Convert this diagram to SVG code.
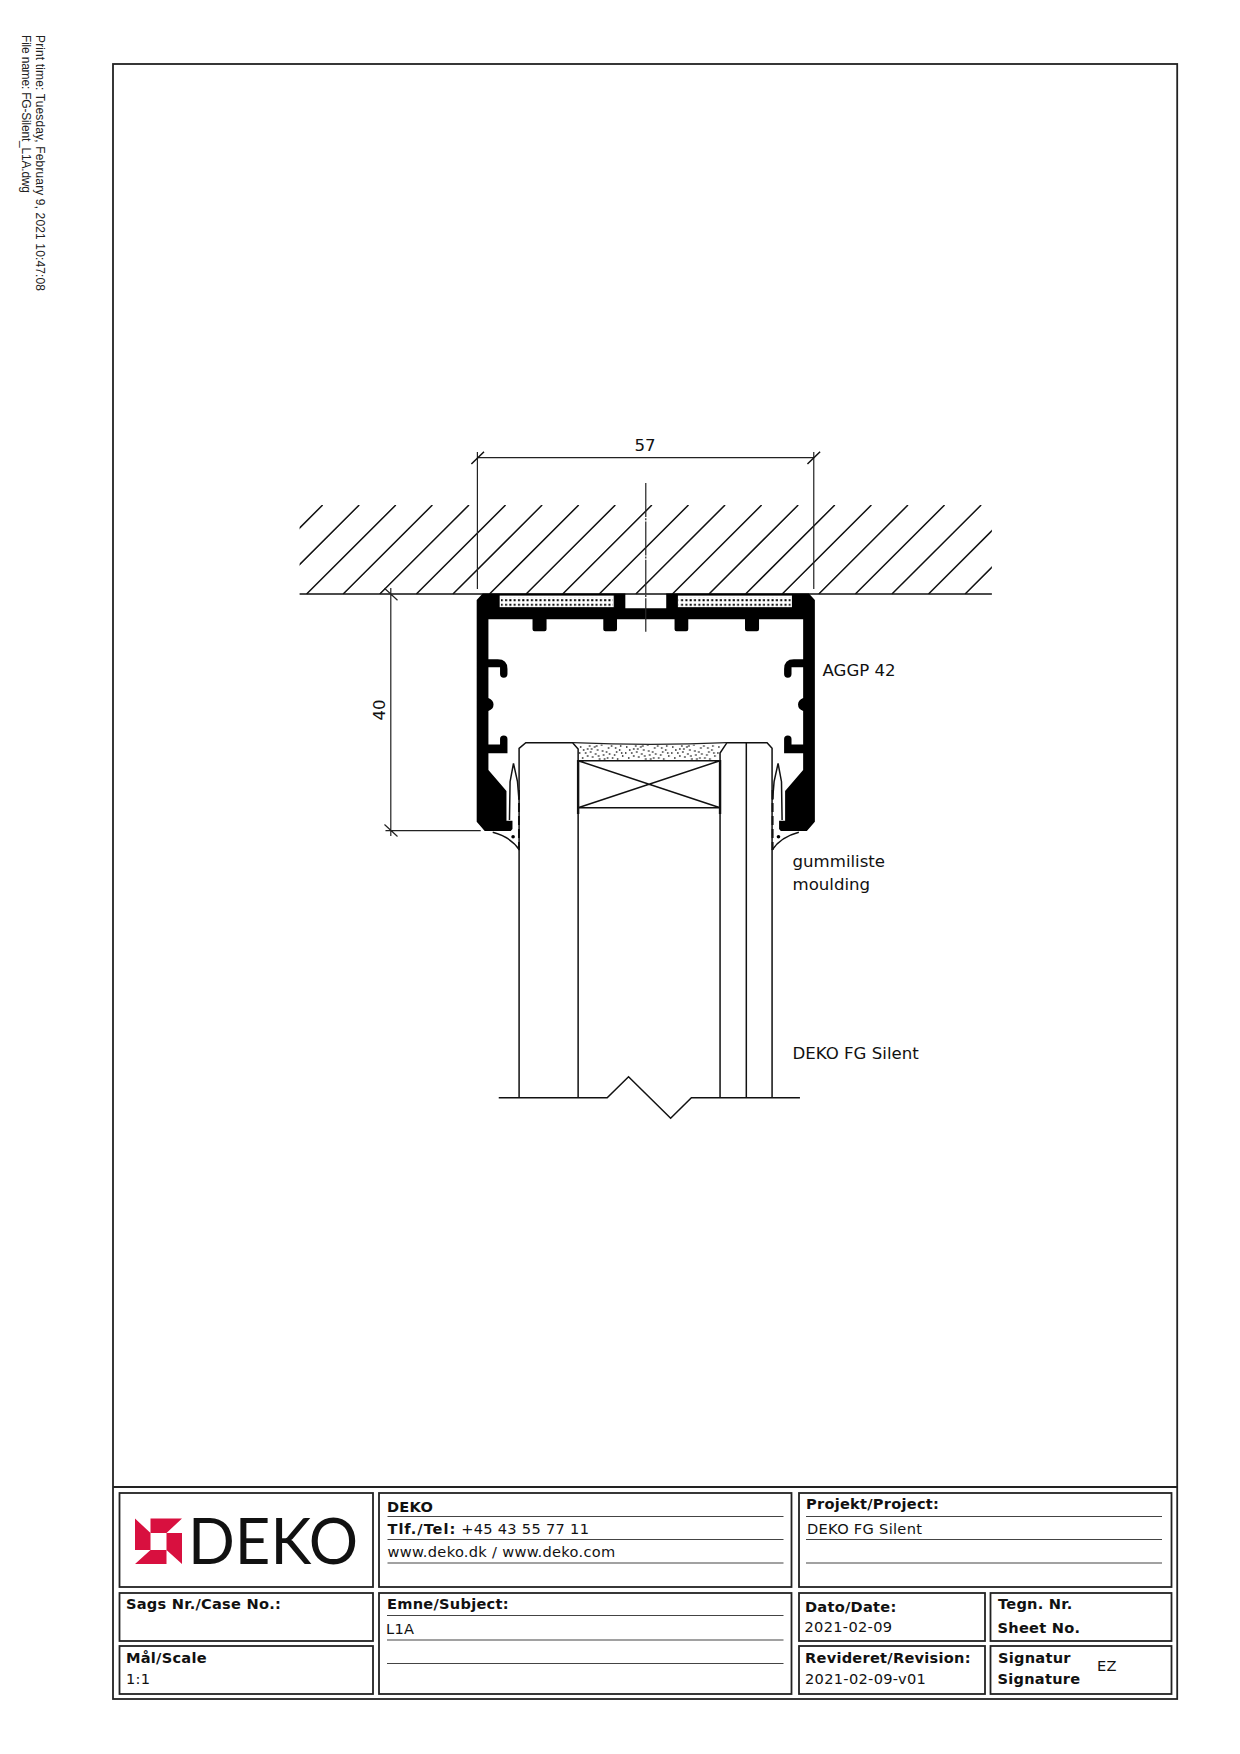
<svg xmlns="http://www.w3.org/2000/svg" xmlns:xlink="http://www.w3.org/1999/xlink" width="1240" height="1754" viewBox="0 0 1240 1754">
<style>
text{font-family:"DejaVu Sans","Liberation Sans",sans-serif;fill:#111}
.l{font-size:16.6px}
.b{font-size:14.6px;font-weight:bold;letter-spacing:.25px}
.t{font-size:14.6px;letter-spacing:.3px}
.box{fill:none;stroke:#222;stroke-width:1.8}
.rule{stroke:#444;stroke-width:1.2;fill:none}
.dr{stroke:#111;stroke-width:1.5;fill:none}
.thin{stroke:#222;stroke-width:1.2;fill:none}
.side{font-family:"Liberation Sans",Arial,sans-serif;font-size:12px;fill:#222}
</style>
<defs>
<clipPath id="hc"><rect x="299.3" y="505" width="690.7" height="89.5"/></clipPath>
<pattern id="dots" width="4.3" height="4.6" patternUnits="userSpaceOnUse" x="499" y="598.2"><rect x="1" y="1" width="2" height="2" fill="#000"/></pattern>
<pattern id="speck" width="46" height="17" patternUnits="userSpaceOnUse" x="577" y="744">
<path d="M2 3h1.4M7 9h1.4M11 2h1.4M14 13h1.4M19 6h1.4M23 1h1.4M25 11h1.4M30 4h1.4M34 14h1.4M38 8h1.4M42 2h1.4M44 12h1.4M4 14h1.4M9 5h1.4M17 10h1.4M21 15h1.4M28 8h1.4M33 2h1.4M36 11h1.4M41 6h1.4M12 8h1.4M26 15h1.4M1 9h1.4M16 3h1.4M39 15h1.4M5 6h1.4M13 5h1.4M20 12h1.4M31 10h1.4M37 4h1.4M43 9h1.4M9 12h1.4M24 7h1.4M29 14h1.4M18 2h1.4" stroke="#111" stroke-width="1.5" fill="none"/>
</pattern>
<g id="half">
<path fill="#000" d="M482 593.6H624.3V608.3H644.7V619.3H616V629.3Q616 631.3 614 631.3H604.3Q602.3 631.3 602.3 629.3V619.3H545.7V629.3Q545.7 631.3 543.7 631.3H533.7Q531.7 631.3 531.7 629.3V619.3H487.7V659.3H497Q506.7 659.3 506.7 669V674Q506.7 677.7 503 677.7T499.3 674V667.3H487.7V698Q492.8 700 492.8 704.5T487.7 711V744.5H499.3V739Q499.3 735.5 503 735.5T506.7 739V753.3H487.7V770L505.7 791V820.7H511.7V829L510 831H484L476 821.7V600Z"/>
<rect x="498.3" y="595" width="115" height="12.8" fill="#fff" stroke="#000" stroke-width="1.2"/>
<rect x="500.2" y="597" width="111.6" height="9.6" fill="url(#dots)"/>
<path class="dr" d="M512.7 763.3L509.3 781.7 508.7 820M512.7 763.3L516.7 781.7 518.2 800"/>
<path d="M518.2 790V850" stroke="#111" stroke-width="2" stroke-dasharray="9 4" fill="none"/>
<path class="dr" d="M492 832.3Q510 837 518.7 850"/>
<circle cx="512.3" cy="836.7" r="1.8" fill="#000"/>
</g>
</defs>
<rect width="1240" height="1754" fill="#fff"/>

<g id="print-info">
<text class="side" transform="translate(35.5 35) rotate(90)" textLength="256">Print time: Tuesday, February 9, 2021 10:47:08</text>
<text class="side" transform="translate(21.5 35) rotate(90)" textLength="158">File name: FG-Silent_L1A.dwg</text>
</g>

<g id="sheet-frame">
<rect x="113" y="64" width="1064.2" height="1635" class="box"/>
<path class="box" d="M113 1487H1177.2"/>
</g>

<g transform="matrix(1.0023 0 0 1 -.4 0)">
<g id="ceiling">
<path class="dr" d="M299.3 594H990"/>
<g clip-path="url(#hc)"><path class="dr" d="M322.3 505l-89 89M358.8 505l-89 89M395.3 505l-89 89M431.8 505l-89 89M468.3 505l-89 89M504.8 505l-89 89M541.3 505l-89 89M577.8 505l-89 89M614.3 505l-89 89M650.8 505l-89 89M687.3 505l-89 89M723.8 505l-89 89M760.3 505l-89 89M796.8 505l-89 89M833.3 505l-89 89M869.8 505l-89 89M906.3 505l-89 89M942.8 505l-89 89M979.3 505l-89 89M1015.8 505l-89 89M1052.3 505l-89 89"/></g>
</g>

<g id="door">
<path class="dr" d="M518.3 1097.7V748.3L525 742.7H571.7L577.2 749V1097.7M577.2 760.7H718.8M577.2 807.7H718.8M577.2 760.7L718.8 807.7M577.2 807.7L718.8 760.7M718.8 1097.7V753L725.7 742.7H765.7L770.7 748.3V1097.7M745 742.7V1097.7"/>
<path d="M577.2 760V814M718.8 760V814" stroke="#111" stroke-width="2.4"/>
<path d="M577.7 744Q650 746 718.8 744V760H577.7Z" fill="url(#speck)" stroke="none"/>
<path class="thin" d="M572 742.7Q650 746 725.7 742.7"/>
<path class="dr" d="M498 1097.7H606.2L627.5 1076.7 669.5 1118.3 690.2 1097.7H798.5"/>
</g>

<g id="profile-aggp42">
<use xlink:href="#half" href="#half"/>
<use xlink:href="#half" href="#half" transform="translate(1289.4 0) scale(-1 1)"/>
</g>

<g id="connectors">
<path class="thin" d="M476.7 452V589M812.3 452V589M476.7 457.7H812.3"/>
<path class="dr" d="M470.7 464L483.3 451.7M806 464L818.6 451.7"/>
<path class="thin" stroke-dasharray="34 1.2 2 1.2" d="M644.7 483V631.7"/>
<path class="thin" d="M390.3 588V836M384 588.3L397 600.3M384 824.5L397 836.5M385 830.7H480"/>
</g>
</g>

<g id="dim-57"><text class="l" x="645" y="451" text-anchor="middle">57</text></g>
<g id="dim-40"><text class="l" transform="translate(385 710) rotate(-90)" text-anchor="middle">40</text></g>
<g id="label-aggp"><text class="l" x="822.5" y="676">AGGP 42</text></g>
<g id="label-moulding"><text class="l" x="792.5" y="866.5">gummiliste</text><text class="l" x="792.5" y="890">moulding</text></g>
<g id="label-door"><text class="l" x="792.5" y="1059">DEKO FG Silent</text></g>

<g id="tb-logo">
<rect x="119.5" y="1493" width="253.5" height="94" class="box"/>
<path fill="#d8103f" d="M135 1518.5L150.5 1533V1550H135ZM150.5 1564H135L150.5 1550H166.5V1564ZM166.5 1533H182V1564L166.5 1550ZM150.5 1518.5H182L166.5 1533H150.5Z"/>
<text x="188" y="1564" textLength="170" lengthAdjust="spacingAndGlyphs" style="font-family:Lato,'Open Sans',sans-serif;font-size:63px;fill:#111">DEKO</text>
</g>
<g id="tb-company">
<rect x="379" y="1493" width="412.5" height="94" class="box"/>
<path class="rule" d="M387.5 1516.5H783.5M387.5 1539.5H783.5M387.5 1563H783.5"/>
<text class="b" x="387" y="1511.5">DEKO</text>
<text class="t" x="387.5" y="1533.5"><tspan class="b" style="letter-spacing:.95px">Tlf./Tel:</tspan> +45 43 55 77 11</text>
<text class="t" x="387.5" y="1556.5">www.deko.dk / www.deko.com</text>
</g>
<g id="tb-project">
<rect x="799" y="1493" width="372.5" height="94" class="box"/>
<path class="rule" d="M806 1516.5H1162M806 1539.5H1162M806 1563H1162"/>
<text class="b" x="806" y="1508.5">Projekt/Project:</text>
<text class="t" x="807" y="1533.5">DEKO FG Silent</text>
</g>
<g id="tb-case">
<rect x="119.5" y="1593" width="253.5" height="48" class="box"/>
<text class="b" x="126" y="1609">Sags Nr./Case No.:</text>
</g>
<g id="tb-scale">
<rect x="119.5" y="1646" width="253.5" height="48" class="box"/>
<text class="b" x="126" y="1662.5">Mål/Scale</text>
<text class="t" x="126" y="1683.5">1:1</text>
</g>
<g id="tb-subject">
<rect x="379" y="1593" width="412.5" height="101" class="box"/>
<path class="rule" d="M387 1615.5H783.5M387 1640H783.5M387 1663.5H783.5"/>
<text class="b" x="387" y="1609">Emne/Subject:</text>
<text class="t" x="386" y="1633.5">L1A</text>
</g>
<g id="tb-date">
<rect x="799" y="1593" width="186" height="48" class="box"/>
<text class="b" x="805" y="1611.5">Dato/Date:</text>
<text class="t" x="804.5" y="1631.5">2021-02-09</text>
</g>
<g id="tb-sheet">
<rect x="990.5" y="1593" width="181" height="48" class="box"/>
<text class="b" x="998" y="1608.5">Tegn. Nr.</text>
<text class="b" x="997.5" y="1632.5">Sheet No.</text>
</g>
<g id="tb-revision">
<rect x="799" y="1646" width="186" height="48" class="box"/>
<text class="b" x="805" y="1662.5">Revideret/Revision:</text>
<text class="t" x="805" y="1683.5">2021-02-09-v01</text>
</g>
<g id="tb-signature">
<rect x="990.5" y="1646" width="181" height="48" class="box"/>
<text class="b" x="998" y="1662.5">Signatur</text>
<text class="b" x="997.5" y="1683.5">Signature</text>
<text class="t" x="1097" y="1670.5">EZ</text>
</g>
</svg>
